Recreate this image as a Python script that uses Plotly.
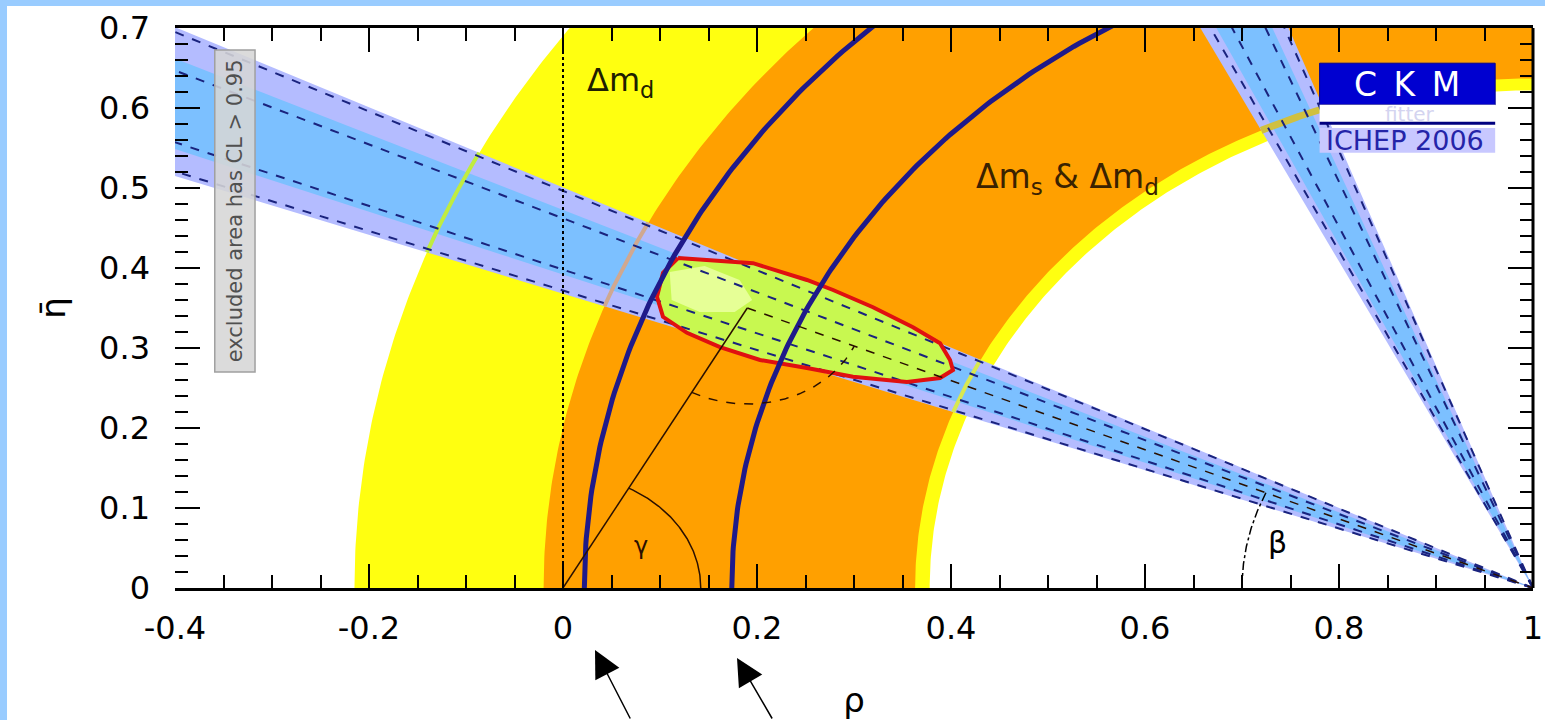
import numpy as np
import plotly.graph_objects as go

# ---------------- constraint values in the (rho-bar, eta-bar) plane ----------------
# annuli centred on (1, 0): inner and outer radius
dmd_radii = [0.622, 1.215]          # Delta m_d (yellow)
dms_dmd_radii = [0.637, 1.020]      # Delta m_s & Delta m_d (orange)
dms_line_radii = [0.826, 0.978]     # thick navy circles

# sin(2beta) wedges from (1, 0): opening angles in degrees (from the -rho direction)
beta_outer = [20.2, 26.6]
beta_inner = [21.4, 25.3]
beta_dashes = [20.4, 21.7, 24.8, 26.4]
beta2_outer = [63.9, 70.2]
beta2_inner = [65.0, 69.0]
beta2_dashes = [64.6, 66.1, 68.5, 69.9]

# combined 95% CL region (red contour)
fit_rho = [0.1186, 0.1959, 0.2515, 0.2784, 0.3196, 0.3608, 0.3887, 0.399, 0.402, 0.3887,
           0.3546, 0.299, 0.2515, 0.2031, 0.1619, 0.1278, 0.1031, 0.0969, 0.1031, 0.1186]
fit_eta = [0.4125, 0.406, 0.385, 0.3725, 0.351, 0.326, 0.306, 0.285, 0.2725, 0.2625,
           0.2575, 0.264, 0.275, 0.285, 0.301, 0.319, 0.339, 0.364, 0.394, 0.4125]
core_rho = [0.110, 0.146, 0.182, 0.195, 0.177, 0.141, 0.112, 0.110]
core_eta = [0.395, 0.4025, 0.385, 0.36, 0.345, 0.345, 0.36, 0.395]

# unitarity triangle apex and angle arcs
apex = [0.19, 0.35]
alpha_arc_r = 0.12
gamma_arc_r = 0.142
beta_arc_r = 0.30

x_tick_vals = [-0.4, -0.2, 0, 0.2, 0.4, 0.6, 0.8, 1.0]
x_tick_text = ["-0.4", "-0.2", "0", "0.2", "0.4", "0.6", "0.8", "1"]
y_tick_vals = [0, 0.1, 0.2, 0.3, 0.4, 0.5, 0.6, 0.7]
y_tick_text = ["0", "0.1", "0.2", "0.3", "0.4", "0.5", "0.6", "0.7"]

FONT = "DejaVu Sans"
YELLOW = "#ffff10"
ORANGE = "#ffa000"
LAVENDER = "#b4bcff"
LIGHTBLUE = "#7cc0ff"
NAVY = "#1f1a8a"
DASH = "#1a237e"


def ring(r_in, r_out, n=500):
    th = np.linspace(0, np.pi, n)
    rho = np.concatenate([1 - r_out * np.cos(th), (1 - r_in * np.cos(th))[::-1]])
    eta = np.concatenate([r_out * np.sin(th), (r_in * np.sin(th))[::-1]])
    return rho, eta


def circle_about_one(r, a1=0.0, a2=180.0, n=400):
    th = np.radians(np.linspace(a1, a2, n))
    return 1 - r * np.cos(th), r * np.sin(th)


def wedge(a1, a2, length=2.5):
    t1, t2 = np.radians(a1), np.radians(a2)
    rho = [1, 1 - length * np.cos(t1), 1 - length * np.cos(t2), 1]
    eta = [0, length * np.sin(t1), length * np.sin(t2), 0]
    return rho, eta


def ray(a, length=2.5):
    t = np.radians(a)
    return [1, 1 - length * np.cos(t)], [0, length * np.sin(t)]


def arc(cx, cy, r, a1, a2, n=120):
    t = np.radians(np.linspace(a1, a2, n))
    return cx + r * np.cos(t), cy + r * np.sin(t)


fig = go.Figure()


def fill(rho, eta, color, line_color=None, line_width=0):
    fig.add_trace(go.Scatter(
        x=rho, y=eta, mode="lines", fill="toself", fillcolor=color,
        line=dict(color=line_color or color, width=line_width),
        hoverinfo="skip", showlegend=False))


def line(rho, eta, color, width, dash="solid"):
    fig.add_trace(go.Scatter(
        x=rho, y=eta, mode="lines", line=dict(color=color, width=width, dash=dash),
        hoverinfo="skip", showlegend=False))


# annuli
fill(*ring(*dmd_radii), YELLOW)
fill(*ring(*dms_dmd_radii), ORANGE)

# sin(2beta) bands
fill(*wedge(*beta_outer), LAVENDER)
fill(*wedge(*beta_inner), LIGHTBLUE)
fill(*wedge(*beta2_outer), LAVENDER)
fill(*wedge(*beta2_inner), LIGHTBLUE)

# contour edges showing through the bands
line(*circle_about_one(dmd_radii[1], *beta_outer), "#c0ec40", 4)
line(*circle_about_one(dms_dmd_radii[1], *beta_outer), "#d0a890", 4)
line(*circle_about_one(dms_dmd_radii[0], *beta_outer), "#d8e850", 4)
line(*circle_about_one(dms_dmd_radii[0], *beta2_outer), "#d0c040", 7)

# combined region
fill(fit_rho, fit_eta, "#c8f850")
fill(core_rho, core_eta, "#e6ff96")

# band boundaries (dashed)
for a in beta_dashes:
    line(*ray(a), DASH, 2, "dash")
for a in beta2_dashes:
    line(*ray(a), DASH, 2, "dash")

# red contour of the combined region
line(fit_rho, fit_eta, "#e01010", 4)

# thick navy circles
for r in dms_line_radii:
    line(*circle_about_one(r), NAVY, 5)

# rho = 0 reference
line([0, 0], [0, 0.7], "black", 2, "dot")

# unitarity triangle
line([0, apex[0]], [0, apex[1]], "#2a1000", 1.5)
line([apex[0], 1], [apex[1], 0], "#2a1000", 1.5, "dash")
ang_origin = np.degrees(np.arctan2(-apex[1], -apex[0])) % 360
ang_one = np.degrees(np.arctan2(-apex[1], 1 - apex[0])) % 360
line(*arc(apex[0], apex[1], alpha_arc_r, ang_origin, ang_one), "#2a1000", 1.5, "dash")
ang_side = np.degrees(np.arctan2(apex[1], apex[0]))
line(*arc(0, 0, gamma_arc_r, 0, ang_side), "#2a1000", 1.5)
ang_beta = np.degrees(np.arctan2(apex[1], apex[0] - 1))
line(*arc(1, 0, beta_arc_r, ang_beta, 180), "black", 1.5, "dashdot")

# ---------------- page geometry ----------------
W, H = 1545, 720
L, R, T, B = 175, 12, 28, 132
PW, PH = W - L - R, H - T - B


def px_x(p):
    return (p - L) / PW


def px_y(p):
    return (H - B - p) / PH


shapes = [
    # right frame edge
    dict(type="line", xref="paper", yref="paper", x0=1, x1=1, y0=0, y1=1,
         line=dict(color="black", width=3), layer="above"),
    # "excluded area" box
    dict(type="rect", xref="x", yref="y", x0=-0.359, x1=-0.3175, y0=0.27, y1=0.6725,
         fillcolor="rgba(214,214,214,0.88)", line=dict(color="#a0a0a0", width=1.5),
         layer="above"),
    # CKMfitter logo
    dict(type="rect", xref="x", yref="y", x0=0.780, x1=0.961, y0=0.604, y1=0.656,
         fillcolor="#0000d0", line=dict(color="#000090", width=1), layer="above"),
    dict(type="rect", xref="x", yref="y", x0=0.780, x1=0.961, y0=0.581, y1=0.604,
         fillcolor="white", line=dict(width=0), layer="above"),
    dict(type="line", xref="x", yref="y", x0=0.780, x1=0.961, y0=0.581, y1=0.581,
         line=dict(color="#000080", width=3), layer="above"),
    dict(type="rect", xref="x", yref="y", x0=0.780, x1=0.961, y0=0.544, y1=0.575,
         fillcolor="#c8c8ff", line=dict(width=0), layer="above"),
    # light blue page border strips
    dict(type="rect", xref="paper", yref="paper", x0=px_x(-2), x1=px_x(7),
         y0=px_y(H + 10), y1=px_y(-2), fillcolor="#99ccff", line=dict(width=0), layer="above"),
    dict(type="rect", xref="paper", yref="paper", x0=px_x(-2), x1=px_x(W + 2),
         y0=px_y(6), y1=px_y(-2), fillcolor="#99ccff", line=dict(width=0), layer="above"),
]

arrow_style = dict(xref="paper", yref="paper", text="", showarrow=True, arrowhead=2,
                   arrowsize=3.6, arrowwidth=1.5, arrowcolor="black", standoff=0)

annotations = [
    dict(x=0.023, y=0.633, xref="x", yref="y", text="\u0394m<sub>d</sub>", showarrow=False,
         xanchor="left", yanchor="middle", font=dict(family=FONT, size=32, color="#202000")),
    dict(x=0.424, y=0.512, xref="x", yref="y",
         text="\u0394m<sub>s</sub> &amp; \u0394m<sub>d</sub>", showarrow=False,
         xanchor="left", yanchor="middle", font=dict(family=FONT, size=33, color="#3a2200")),
    dict(x=0.080, y=0.052, xref="x", yref="y", text="\u03b3", showarrow=False,
         font=dict(family=FONT, size=24, color="#2a1000")),
    dict(x=0.737, y=0.057, xref="x", yref="y", text="\u03b2", showarrow=False,
         font=dict(family=FONT, size=30, color="black")),
    dict(x=-0.338, y=0.471, xref="x", yref="y", text="excluded area has CL &gt; 0.95",
         showarrow=False, textangle=-90, font=dict(family=FONT, size=21, color="#505050")),
    dict(x=0.870, y=0.630, xref="x", yref="y", text="C\u2002K\u2002M", showarrow=False,
         font=dict(family=FONT, size=33, color="white")),
    dict(x=0.873, y=0.5925, xref="x", yref="y", text="fitter", showarrow=False,
         font=dict(family=FONT, size=20, color="#d4d4f0")),
    dict(x=0.868, y=0.559, xref="x", yref="y", text="ICHEP 2006", showarrow=False,
         font=dict(family=FONT, size=27, color="#2424a8")),
    # arrows under the axis pointing at the navy circles
    dict(x=px_x(595), y=px_y(650), ax=36, ay=75, **arrow_style),
    dict(x=px_x(737), y=px_y(658), ax=36, ay=67, **arrow_style),
]

tick_font = dict(family=FONT, size=32, color="black")

fig.update_layout(
    width=W, height=H, autosize=False,
    margin=dict(l=L, r=R, t=T, b=B, pad=0, autoexpand=False),
    paper_bgcolor="white", plot_bgcolor="white",
    showlegend=False,
    shapes=shapes, annotations=annotations,
    xaxis=dict(
        range=[-0.4, 1.0], showgrid=False, zeroline=False, automargin=False,
        showline=True, linecolor="black", linewidth=3, mirror="ticks",
        ticks="inside", ticklen=24, tickwidth=2, tickcolor="black",
        tickvals=x_tick_vals, ticktext=x_tick_text, tickfont=tick_font,
        ticklabelstandoff=10,
        minor=dict(dtick=0.05, tick0=0, ticks="inside", ticklen=13, tickwidth=2,
                   tickcolor="black", showgrid=False),
        title=dict(text="\u03c1", font=dict(family=FONT, size=34, color="black"), standoff=52),
        layer="above traces",
    ),
    yaxis=dict(
        range=[0, 0.7], showgrid=False, zeroline=False, automargin=False,
        showline=False, mirror="ticks",
        ticks="inside", ticklen=25, tickwidth=2, tickcolor="black",
        tickvals=y_tick_vals, ticktext=y_tick_text, tickfont=tick_font,
        ticklabelstandoff=24,
        minor=dict(dtick=0.02, tick0=0, ticks="inside", ticklen=13, tickwidth=2,
                   tickcolor="black", showgrid=False),
        title=dict(text="\u03b7\u0304", font=dict(family=FONT, size=34, color="black"), standoff=23),
        layer="above traces",
    ),
)

fig.write_html("out.html")
